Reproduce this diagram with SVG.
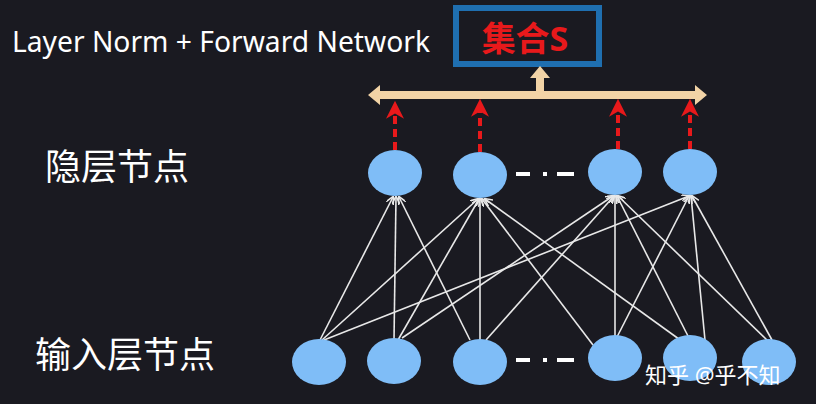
<svg xmlns="http://www.w3.org/2000/svg" width="816" height="404" viewBox="0 0 816 404">
<defs>
<style>
.n{fill:#7fbdf7}
.t{fill:#fff;font-family:"Noto Sans","Noto Sans CJK SC",sans-serif}
.e{stroke:#e8e8e8;stroke-width:1.6;fill:none;marker-end:url(#wa)}
.r{stroke:#e8191b;stroke-width:4;stroke-dasharray:8,5;fill:none;marker-end:url(#ra)}
</style>
<marker id="wa" viewBox="0 0 10 10" refX="9" refY="5" markerWidth="5" markerHeight="5" orient="auto"><path d="M0,0L10,5L0,10" fill="none" stroke="#e8e8e8" stroke-width="2"/></marker>
<marker id="ra" viewBox="0 0 10 10" refX="6" refY="5" markerWidth="4.5" markerHeight="4.5" orient="auto"><path d="M0,0L10,5L0,10L3,5z" fill="#e8191b"/></marker>
</defs>
<rect width="816" height="404" fill="#1a1a21"/>
<text class="t" x="12" y="52" font-size="29" textLength="418" lengthAdjust="spacingAndGlyphs">Layer Norm + Forward Network</text>
<text class="t" x="45" y="180" font-size="36">隐层节点</text>
<text class="t" x="35" y="368" font-size="36">输入层节点</text>
<g id="setS">
<rect x="456" y="8" width="143" height="56" fill="none" stroke="#1f6fb0" stroke-width="6"/>
<text x="525" y="51" font-size="34" fill="#e8191b" text-anchor="middle" font-weight="bold" font-family="Noto Sans,Noto Sans CJK SC,sans-serif">集合S</text>
</g>
<g id="bar" fill="#f2d3a6">
<path d="M368,95 L380,85 L380,91 L536,91 L536,78 L530,78 L540,66 L550,78 L544,78 L544,91 L695,91 L695,85 L707,95 L695,105 L695,99 L380,99 L380,105 Z"/>
</g>
<g id="connectors">
<path class="e" d="M320,340L393,197"/><path class="e" d="M394,340L396,197"/><path class="e" d="M470,340L399,197"/>
<path class="e" d="M322,340L478,199"/><path class="e" d="M398,340L479,199"/><path class="e" d="M480,340L480,199"/><path class="e" d="M593,345L482,199"/><path class="e" d="M683,342L485,199"/>
<path class="e" d="M402,338L613,196"/><path class="e" d="M486,340L614,196"/><path class="e" d="M615,337L615,196"/><path class="e" d="M690,340L617,196"/><path class="e" d="M769,342L618,196"/>
<path class="e" d="M324,340L689,196"/><path class="e" d="M617,337L689,196"/><path class="e" d="M705,340L691,196"/><path class="e" d="M772,340L692,196"/>
<path class="r" d="M395,150L395,108"/><path class="r" d="M480,152L480,106"/><path class="r" d="M618,149L618,106"/><path class="r" d="M690,149L690,106"/>
</g>
<g id="h1"><ellipse class="n" cx="395" cy="173" rx="27" ry="23"/></g>
<g id="h2"><ellipse class="n" cx="480" cy="175" rx="27" ry="23"/></g>
<g id="h3"><ellipse class="n" cx="615" cy="172" rx="27" ry="23"/></g>
<g id="h4"><ellipse class="n" cx="690" cy="172" rx="27" ry="23"/></g>
<g fill="#fff"><rect x="516" y="172" width="14" height="4"/><rect x="543" y="172" width="4" height="4"/><rect x="557" y="172" width="17" height="4"/>
<rect x="516" y="358" width="14" height="4"/><rect x="543" y="358" width="4" height="4"/><rect x="557" y="358" width="17" height="4"/></g>
<g id="i1"><ellipse class="n" cx="319" cy="362" rx="27" ry="23"/></g>
<g id="i2"><ellipse class="n" cx="394" cy="361" rx="27" ry="23"/></g>
<g id="i3"><ellipse class="n" cx="480" cy="362" rx="27" ry="23"/></g>
<g id="i4"><ellipse class="n" cx="615" cy="358" rx="27" ry="23"/></g>
<g id="i5"><ellipse class="n" cx="690" cy="358" rx="27" ry="23"/></g>
<g id="i6"><ellipse class="n" cx="769" cy="362" rx="27" ry="23"/></g>
<text class="t" x="645" y="383" font-size="22">知乎 @乎不知</text>
</svg>
